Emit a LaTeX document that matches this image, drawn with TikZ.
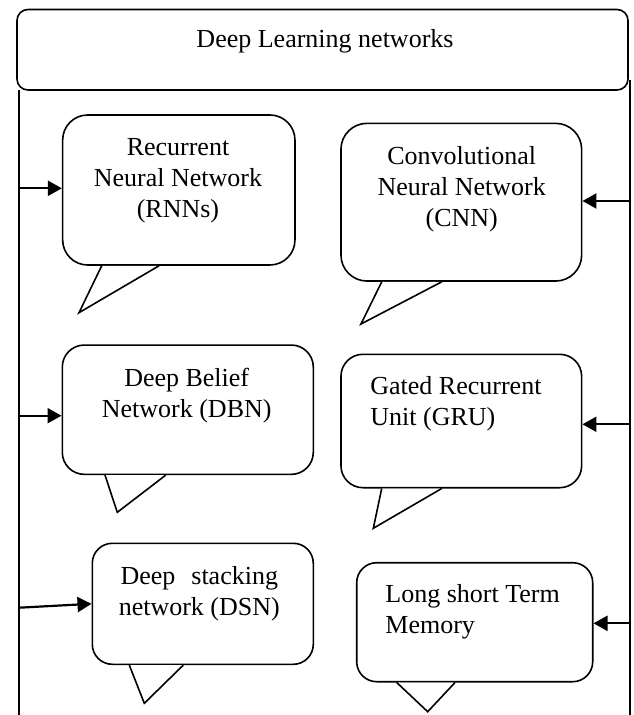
\documentclass[tikz,border=0pt]{standalone}
\usepackage{fontspec}
\setmainfont{Liberation Serif}
\usetikzlibrary{arrows.meta}

\tikzset{
    box/.style={draw, line width=0.8pt, rounded corners=11pt, inner sep=0pt},
    txt/.style={inner sep=0pt, align=center, font=\fontsize{13}{15.5}\selectfont},
    side/.style={line width=0.9pt},
    conn/.style={line width=1.1pt, -{Triangle[length=7pt,width=7.5pt]}}
}
\newcommand{\bubbletail}[4]{%
    \fill[white, yshift=0.6pt] (#2,0 |- #1.south) -- (#4) -- (#3,0 |- #1.south) -- cycle;
    \draw[line width=0.8pt] (#2,0 |- #1.south) -- (#4) -- (#3,0 |- #1.south);}

\begin{document}
\begin{tikzpicture}[x=0.5pt, y=-0.5pt]
                \useasboundingbox (0,0) rectangle (633,715);
                \coordinate (ltop) at (19,90);
                \coordinate (lbot) at (19,715);
                \coordinate (rtop) at (630,80);
                \coordinate (rbot) at (630,715);
                \draw[side] (ltop) -- (lbot);
                \draw[side] (rtop) -- (rbot);
                \node[box, fill=white, rounded corners=5.5pt, minimum width=305.5pt, minimum height=40.25pt] (title) at (322.5,49.75) {};
                \node[txt, anchor=north] (titletxt) at (325,28.9) {Deep Learning networks};
                \node[box, rounded corners=12.5pt, minimum width=116.15pt, minimum height=75pt] (rnn) at (178.8,190) {};
                \node[box, rounded corners=13pt, minimum width=120.35pt, minimum height=78.85pt] (cnn) at (461.3,202.2) {};
                \node[box, minimum width=125.5pt, minimum height=64.65pt] (dbn) at (187.8,409.7) {};
                \node[box, minimum width=120.35pt, minimum height=66.7pt] (gru) at (461.3,421) {};
                \node[box, rounded corners=10pt, minimum width=110.5pt, minimum height=60.5pt] (dsn) at (202.8,603.8) {};
                \node[box, rounded corners=10pt, minimum width=118pt, minimum height=59.5pt] (lstm) at (474.7,622.2) {};
                \bubbletail{rnn}{101.7}{159}{79,312.7}
                \bubbletail{cnn}{381.7}{441.7}{361,324}
                \bubbletail{dbn}{105}{165.7}{117.3,512.3}
                \bubbletail{gru}{381.7}{441.7}{373.3,528.3}
                \bubbletail{dsn}{129.3}{183.3}{144.3,703.3}
                \bubbletail{lstm}{396.7}{455}{427.7,711.7}
                \node[txt, anchor=north] (rnntxt) at (178,137.8) {Recurrent\\Neural Network\\(RNNs)};
                \node[txt, anchor=north] (cnntxt) at (461.7,146.2) {Convolutional\\Neural Network\\(CNN)};
                \node[txt, anchor=north] (dbntxt) at (186.7,368) {Deep Belief\\Network (DBN)};
                \node[txt, anchor=north west, align=left] (grutxt) at (370,376.2) {Gated Recurrent\\Unit (GRU)};
                \node[txt, anchor=north] (dsntxt) at (199.3,566.2) {Deep\hspace{8pt}stacking\\network (DSN)};
                \node[txt, anchor=north west, align=left] (lstmtxt) at (385,583.9) {Long short Term\\Memory};
                \coordinate (la) at (19,188.3);
                \coordinate (lb) at (19,415.7);
                \coordinate (lc) at (19,607.7);
                \coordinate (ra) at (630,201);
                \coordinate (rb) at (630,424.3);
                \coordinate (rc) at (630,623.3);
                \draw[conn] (la) -- (rnn.west |- la);
                \draw[conn] (lb) -- (dbn.west |- lb);
                \draw[conn] (lc) -- (dsn.west);
                \draw[conn] (ra) -- (cnn.east |- ra);
                \draw[conn] (rb) -- (gru.east |- rb);
                \draw[conn] (rc) -- (lstm.east |- rc);
            \end{tikzpicture}
\end{document}
